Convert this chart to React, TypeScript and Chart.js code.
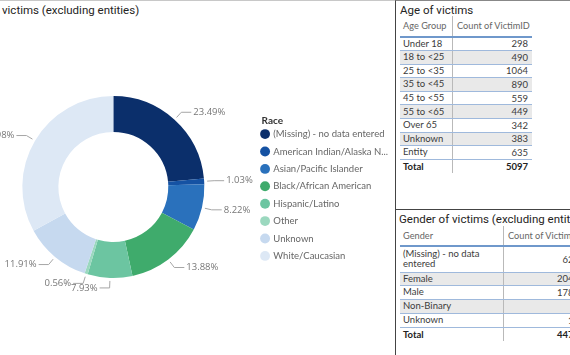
import React, { useEffect, useRef } from "react";
import { Chart, registerables } from "chart.js";

Chart.register(...registerables);

const raceCategories = [
  "(Missing) - no data entered",
  "American Indian/Alaska Native",
  "Asian/Pacific Islander",
  "Black/African American",
  "Hispanic/Latino",
  "Other",
  "Unknown",
  "White/Caucasian",
];
const racePercents = [23.49, 1.03, 8.22, 13.88, 7.93, 0.56, 11.91, 32.98];
const raceColors = ["#0b2f6b", "#1552a3", "#2a71bc", "#3fab6c", "#6cc5a1", "#9bd8bf", "#c6d9ef", "#dde8f5"];

const ageGroups = ["Under 18", "18 to <25", "25 to <35", "35 to <45", "45 to <55", "55 to <65", "Over 65", "Unknown", "Entity"];
const ageCounts = [298, 490, 1064, 890, 559, 449, 342, 383, 635];
const ageTotal = 5097;

const genderGroups = ["(Missing) - no data entered", "Female", "Male", "Non-Binary", "Unknown"];
const genderCounts = [627, 2043, 1781, 9, 14];
const genderTotal = 4474;

const BODY_FONT = 'Lato, "Open Sans", sans-serif';
const LABEL_FONT = '"Open Sans", "Noto Sans", sans-serif';
const TITLE_FONT = 'Roboto, "DejaVu Sans", sans-serif';

const LEGEND_FONT_SIZE = 9.5;
const LEGEND_MAX_TEXT = 115;

function DonutChart() {
  const ref = useRef<HTMLCanvasElement | null>(null);
  useEffect(() => {
    const canvas = ref.current;
    if (!canvas) return;

    const pctLabels = {
      id: "pctLabels",
      afterDatasetsDraw(chart: any) {
        const ctx = chart.ctx;
        const meta = chart.getDatasetMeta(0);
        const data = chart.data.datasets[0].data as number[];
        ctx.save();
        ctx.font = `9.5px ${LABEL_FONT}`;
        ctx.strokeStyle = "#a6a6a6";
        ctx.fillStyle = "#777777";
        ctx.lineWidth = 1;
        ctx.textBaseline = "middle";
        meta.data.forEach((arc: any, i: number) => {
          const p = arc.getProps(["x", "y", "startAngle", "endAngle", "outerRadius"], true);
          const mid = (p.startAngle + p.endAngle) / 2;
          const c = Math.cos(mid);
          const s = Math.sin(mid);
          const r0 = p.outerRadius + 3;
          const r1 = p.outerRadius + 10;
          const x0 = p.x + c * r0;
          const y0 = p.y + s * r0;
          const x1 = p.x + c * r1;
          const y1 = p.y + s * r1;
          const dir = c >= 0 ? 1 : -1;
          const x2 = x1 + dir * 10;
          ctx.beginPath();
          ctx.moveTo(x0, y0);
          ctx.lineTo(x1, y1);
          ctx.lineTo(x2, y1);
          ctx.stroke();
          ctx.textAlign = dir > 0 ? "left" : "right";
          ctx.fillText(data[i].toFixed(2) + "%", x2 + dir * 2, y1);
        });
        ctx.restore();
      },
    };

    const legendTitle = {
      id: "legendTitle",
      afterDraw(chart: any) {
        const lg = chart.legend;
        if (!lg || !lg.legendHitBoxes || !lg.legendHitBoxes.length) return;
        const hb = lg.legendHitBoxes[0];
        const ctx = chart.ctx;
        ctx.save();
        ctx.font = `bold 10px ${BODY_FONT}`;
        ctx.fillStyle = "#333333";
        ctx.textAlign = "left";
        ctx.textBaseline = "middle";
        ctx.fillText("Race", hb.left, hb.top + hb.height / 2 - 13.5);
        ctx.restore();
      },
    };

    const chart = new Chart(canvas, {
      type: "doughnut",
      data: {
        labels: raceCategories,
        datasets: [
          {
            data: racePercents,
            backgroundColor: raceColors,
            borderWidth: 0,
            radius: 91,
            cutout: "60.4%",
          } as any,
        ],
      },
      options: {
        responsive: false,
        animation: false,
        layout: { padding: { left: 13, top: 1, right: 0, bottom: 0 } },
        plugins: {
          tooltip: { enabled: false },
          legend: {
            position: "right",
            align: "center",
            title: {
              display: true,
              text: "Race",
              color: "rgba(0,0,0,0)",
              font: { size: 10, weight: "bold", family: BODY_FONT },
              padding: { top: 0, bottom: 4 },
            },
            labels: {
              usePointStyle: true,
              pointStyle: "circle",
              boxWidth: 7,
              boxHeight: 7,
              padding: 7.9,
              color: "#666666",
              font: { size: LEGEND_FONT_SIZE, family: BODY_FONT },
              generateLabels(chart: any) {
                const base = (Chart as any).overrides.doughnut.plugins.legend.labels.generateLabels(chart);
                const ctx = chart.ctx;
                ctx.save();
                ctx.font = `${LEGEND_FONT_SIZE}px ${BODY_FONT}`;
                base.forEach((item: any) => {
                  let t = item.text as string;
                  if (ctx.measureText(t).width > LEGEND_MAX_TEXT) {
                    while (t.length > 1 && ctx.measureText(t + "...").width > LEGEND_MAX_TEXT) {
                      t = t.slice(0, -1);
                    }
                    item.text = t + "...";
                  }
                });
                ctx.restore();
                return base;
              },
            },
          },
        },
      },
      plugins: [pctLabels, legendTitle],
    });
    return () => chart.destroy();
  }, []);
  return (
    <canvas
      ref={ref}
      width={438}
      height={337}
      style={{ position: "absolute", left: -40, top: 17, width: 438, height: 337, display: "block" }}
    />
  );
}

const cellBase: React.CSSProperties = {
  boxSizing: "border-box",
  whiteSpace: "nowrap",
  overflow: "hidden",
  display: "flex",
  alignItems: "center",
};

function Table(props: {
  left: number;
  top: number;
  col1: number;
  col2: number;
  h1: string;
  h2: string;
  headerH: number;
  rowH: number;
  rows: string[];
  values: number[];
  total: number;
  firstRowH?: number;
}) {
  const lineBlue = "#9fb9dc";
  return (
    <div
      style={{
        position: "absolute",
        left: props.left,
        top: props.top,
        width: props.col1 + props.col2,
        fontFamily: BODY_FONT,
        fontSize: 9.5,
      }}
    >
      <div style={{ display: "flex", height: props.headerH, borderBottom: "2px solid #6f98cb", boxSizing: "border-box", color: "#666", fontSize: 9.2 }}>
        <div style={{ ...cellBase, width: props.col1, paddingLeft: 3 }}>{props.h1}</div>
        <div style={{ ...cellBase, width: props.col2, paddingLeft: 4, borderLeft: "1px solid #b9b9b9" }}>{props.h2}</div>
      </div>
      {props.rows.map((r, i) => {
        const wrap = i === 0 && !!props.firstRowH;
        const h = wrap ? props.firstRowH : props.rowH;
        return (
          <div
            key={r}
            style={{
              display: "flex",
              height: h,
              borderBottom: `1px solid ${lineBlue}`,
              boxSizing: "border-box",
              background: i % 2 === 1 ? "#e9e9e9" : "#ffffff",
              color: "#3b3b3b",
            }}
          >
            <div
              style={{
                ...cellBase,
                width: props.col1,
                paddingLeft: 3,
                whiteSpace: wrap ? "normal" : "nowrap",
                lineHeight: "10.5px",
              }}
            >
              {r}
            </div>
            <div
              style={{
                ...cellBase,
                width: props.col2,
                justifyContent: "flex-end",
                paddingRight: 4,
                borderLeft: "1px solid #b9b9b9",
              }}
            >
              {props.values[i]}
            </div>
          </div>
        );
      })}
      <div style={{ display: "flex", height: props.rowH, color: "#222", fontWeight: "bold" }}>
        <div style={{ ...cellBase, width: props.col1, paddingLeft: 3 }}>Total</div>
        <div style={{ ...cellBase, width: props.col2, justifyContent: "flex-end", paddingRight: 4, borderLeft: "1px solid #b9b9b9" }}>
          {props.total}
        </div>
      </div>
    </div>
  );
}

export default function App() {
  useEffect(() => {
    document.body.style.margin = "0";
  }, []);
  return (
    <div style={{ position: "relative", width: 570, height: 355, overflow: "hidden", background: "#fff" }}>
      {/* Race panel */}
      <div style={{ position: "absolute", left: 0, top: 0, width: 395, height: 355, overflow: "hidden", borderTop: "1px solid #c8c8c8", boxSizing: "border-box" }}>
        <DonutChart />
        <div
          style={{
            position: "absolute",
            left: 2,
            top: 1,
            fontFamily: TITLE_FONT,
            fontSize: 11.5,
            color: "#252423",
            whiteSpace: "nowrap",
            lineHeight: "16px",
          }}
        >
          <span style={{ position: "absolute", right: "100%", whiteSpace: "nowrap" }}>Race of&nbsp;</span>
          victims (excluding entities)
        </div>
      </div>
      {/* Age panel */}
      <div style={{ position: "absolute", left: 395, top: 0, width: 180, height: 209, borderLeft: "1.5px solid #444", borderTop: "1px solid #888", boxSizing: "border-box" }} />
      <div style={{ position: "absolute", left: 400, top: 2, fontFamily: TITLE_FONT, fontSize: 11.5, color: "#252423", lineHeight: "16px", whiteSpace: "nowrap" }}>
        Age of victims
      </div>
      <Table left={400} top={16} col1={52} col2={80} h1="Age Group" h2="Count of VictimID" headerH={21.5} rowH={13.6} rows={ageGroups} values={ageCounts} total={ageTotal} />
      {/* Gender panel */}
      <div style={{ position: "absolute", left: 395, top: 209, width: 180, height: 146, borderLeft: "1.5px solid #444", borderTop: "1.5px solid #444", boxSizing: "border-box" }} />
      <div style={{ position: "absolute", left: 399, top: 211, fontFamily: TITLE_FONT, fontSize: 11.5, color: "#252423", lineHeight: "16px", whiteSpace: "nowrap" }}>
        Gender of victims (excluding entities)
      </div>
      <Table
        left={400}
        top={226}
        col1={103}
        col2={80}
        h1="Gender"
        h2="Count of VictimID"
        headerH={20.5}
        rowH={13.8}
        firstRowH={26}
        rows={genderGroups}
        values={genderCounts}
        total={genderTotal}
      />
    </div>
  );
}
